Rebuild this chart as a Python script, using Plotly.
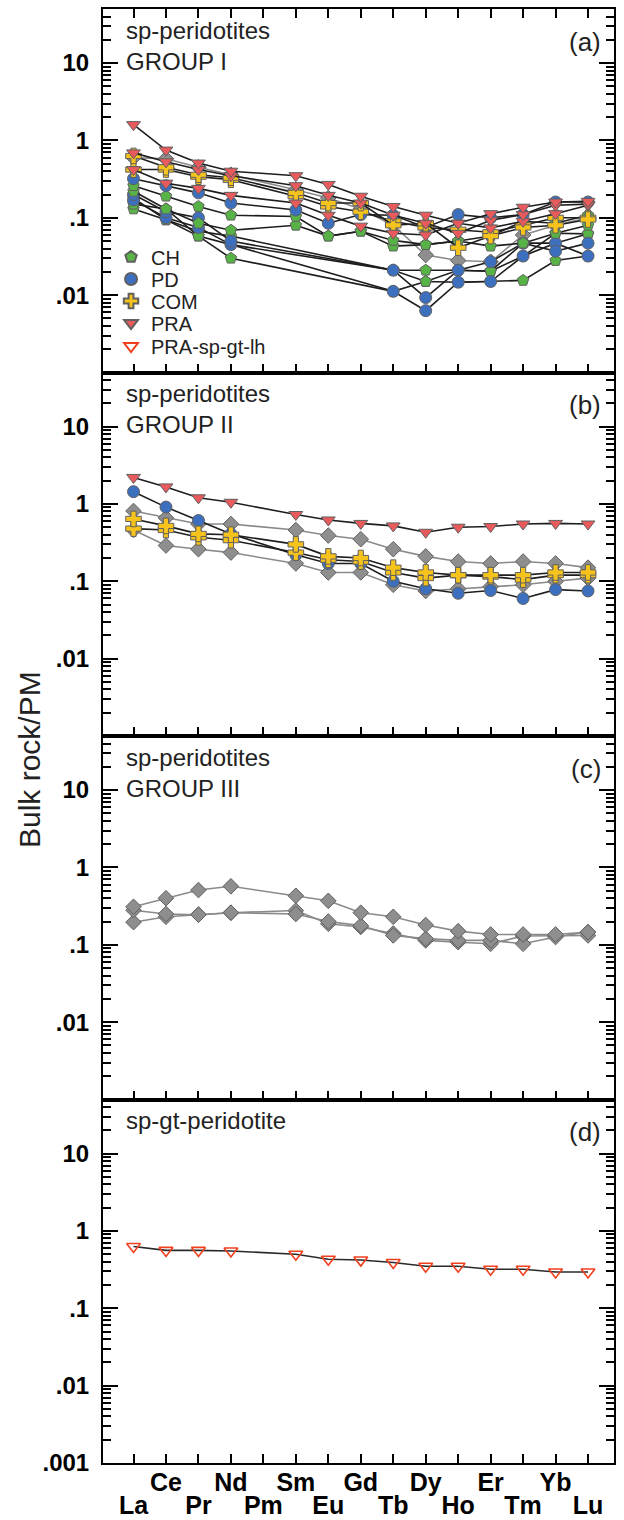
import math
import plotly.graph_objects as go
from plotly.subplots import make_subplots

elements = ["La", "Ce", "Pr", "Nd", "Pm", "Sm", "Eu", "Gd", "Tb", "Dy", "Ho", "Er", "Tm", "Yb", "Lu"]
lower_row = ["La", "Pr", "Pm", "Eu", "Tb", "Ho", "Tm", "Lu"]
ytick_vals = [0.001, 0.01, 0.1, 1, 10]
ytick_text = [".001", ".01", ".1", "1", "10"]

# ---- panel (a): sp-peridotites GROUP I ----
a_PRA_1 = [1.6, 0.75, 0.51, 0.40, None, 0.35, 0.27, 0.19, 0.14, 0.108, 0.085, 0.113, 0.137, 0.16, 0.163]
a_PRA_2 = [0.69, 0.53, 0.42, 0.35, None, 0.26, 0.195, 0.155, 0.108, 0.085, 0.063, 0.093, 0.11, 0.145, 0.15]
a_PRA_3 = [0.42, 0.28, 0.24, 0.195, None, 0.155, 0.108, 0.078, 0.063, 0.06, 0.085, 0.074, 0.09, 0.113, 0.145]
a_COM_1 = [0.63, 0.45, 0.36, 0.33, None, 0.21, 0.155, 0.155, 0.08, 0.085, 0.041, 0.058, 0.075, 0.08, 0.095]
a_COM_2 = [0.42, 0.42, 0.34, 0.31, None, 0.19, 0.14, 0.12, 0.09, 0.075, 0.07, 0.065, 0.08, 0.10, 0.10]
a_PD_1 = [0.32, 0.26, 0.21, 0.155, None, 0.126, 0.085, 0.11, 0.108, 0.075, 0.11, 0.10, 0.11, 0.16, 0.16]
a_PD_2 = [0.20, 0.12, 0.10, 0.05, None, None, None, None, 0.021, 0.0093, 0.021, 0.027, 0.047, 0.037, 0.047]
a_PD_3 = [0.17, 0.10, 0.075, 0.045, None, None, None, None, 0.0112, 0.0063, 0.0147, 0.015, 0.032, 0.047, 0.032]
a_CH_1 = [0.26, 0.19, 0.14, 0.108, None, 0.104, 0.058, 0.067, 0.051, 0.045, 0.05, 0.043, 0.047, 0.063, 0.08]
a_CH_2 = [0.22, 0.13, 0.085, 0.069, None, 0.08, 0.058, 0.067, 0.043, 0.045, 0.05, 0.058, 0.09, 0.085, 0.108]
a_CH_3 = [0.18, 0.094, 0.067, 0.058, None, None, None, None, 0.021, 0.021, 0.021, 0.0204, 0.032, 0.063, 0.062]
a_CH_4 = [0.13, 0.094, 0.058, 0.030, None, None, None, None, 0.0112, 0.015, 0.0147, 0.015, 0.0155, 0.028, 0.032]
a_CH_5 = [0.15, 0.13, 0.058, 0.045, None, None, None, None, 0.021, 0.015, 0.021, 0.0204, 0.047, 0.047, 0.062]
a_GR_1 = [0.60, 0.58, 0.45, 0.36, None, 0.23, 0.18, 0.13, 0.08, 0.033, 0.028, 0.027, 0.06, 0.08, 0.10]

# ---- panel (b): sp-peridotites GROUP II ----
b_PRA_1 = [2.2, 1.66, 1.2, 1.05, None, 0.73, 0.62, 0.56, 0.52, 0.43, 0.50, 0.51, 0.55, 0.56, 0.55]
b_PD_1 = [1.44, 0.91, 0.61, 0.41, None, 0.22, 0.17, 0.17, 0.10, 0.08, 0.07, 0.076, 0.06, 0.078, 0.075]
b_COM_1 = [0.64, 0.52, 0.41, 0.40, None, 0.30, 0.21, 0.20, 0.15, 0.13, 0.12, 0.12, 0.12, 0.13, 0.13]
b_COM_2 = [0.48, 0.46, 0.37, 0.34, None, 0.235, 0.19, 0.18, 0.13, 0.11, 0.12, 0.115, 0.105, 0.12, 0.12]
b_GR_1 = [0.81, 0.66, 0.55, 0.55, None, 0.46, 0.39, 0.35, 0.26, 0.21, 0.18, 0.17, 0.18, 0.17, 0.15]
b_GR_2 = [0.46, 0.29, 0.26, 0.235, None, 0.17, 0.13, 0.13, 0.09, 0.075, 0.08, 0.085, 0.09, 0.10, 0.11]

# ---- panel (c): sp-peridotites GROUP III ----
c_GR_1 = [0.31, 0.40, 0.51, 0.57, None, 0.43, 0.37, 0.26, 0.23, 0.18, 0.15, 0.136, 0.136, 0.136, 0.146]
c_GR_2 = [0.28, 0.25, 0.245, 0.26, None, 0.25, 0.20, 0.177, 0.132, 0.12, 0.114, 0.114, 0.103, 0.126, 0.146]
c_GR_3 = [0.196, 0.23, 0.245, 0.26, None, 0.277, 0.187, 0.17, 0.14, 0.114, 0.108, 0.103, 0.13, 0.13, 0.132]

# ---- panel (d): sp-gt-peridotite ----
d_SGL_1 = [0.63, 0.56, 0.56, 0.55, None, 0.50, 0.43, 0.42, 0.39, 0.35, 0.35, 0.32, 0.32, 0.295, 0.295]

panel_titles = ["sp-peridotites<br>GROUP I", "sp-peridotites<br>GROUP II",
                "sp-peridotites<br>GROUP III", "sp-gt-peridotite"]
panel_letters = ["(a)", "(b)", "(c)", "(d)"]

STY = {
    "CH": dict(symbol="pentagon", color="#58b347", line="#1e1e1e"),
    "PD": dict(symbol="circle", color="#3d6fbf", line="#1e1e1e"),
    "COM": dict(symbol="cross", color="#f6c31c", line="#1e1e1e"),
    "PRA": dict(symbol="triangle-down", color="#e85a5c", line="#1e1e1e"),
    "GR": dict(symbol="diamond", color="#8e8e8e", line="#8a8a8a"),
    "SGL": dict(symbol="triangle-down-open", color="#f0401e", line="#2a2a2a"),
}
legend_names = [("CH", "CH"), ("PD", "PD"), ("COM", "COM"), ("PRA", "PRA"), ("SGL", "PRA-sp-gt-lh")]
legend_rows_px = [257, 279, 301, 323, 346]

panels = [
    [("GR", a_GR_1), ("CH", a_CH_4), ("CH", a_CH_3), ("CH", a_CH_5), ("PD", a_PD_3), ("PD", a_PD_2),
     ("CH", a_CH_2), ("CH", a_CH_1), ("PD", a_PD_1), ("COM", a_COM_2), ("COM", a_COM_1),
     ("PRA", a_PRA_3), ("PRA", a_PRA_2), ("PRA", a_PRA_1)],
    [("GR", b_GR_2), ("GR", b_GR_1), ("PD", b_PD_1), ("COM", b_COM_2), ("COM", b_COM_1), ("PRA", b_PRA_1)],
    [("GR", c_GR_3), ("GR", c_GR_2), ("GR", c_GR_1)],
    [("SGL", d_SGL_1)],
]

W, H = 624, 1520
ML, MR, MT, MB = 103, 10, 9, 57
PH = H - MT - MB


def marker_for(kind, size):
    s = STY[kind]
    if kind == "SGL":
        return dict(symbol=s["symbol"], size=size, color=s["color"], line=dict(color=s["color"], width=1.6))
    return dict(symbol=s["symbol"], size=size, color=s["color"], line=dict(color="#606060", width=1))


xs = list(range(len(elements)))
fig = make_subplots(rows=4, cols=1, shared_xaxes=True, vertical_spacing=0)

for r, series in enumerate(panels, start=1):
    for kind, vals in series:
        s = STY[kind]
        fig.add_trace(go.Scatter(x=xs, y=vals, mode="lines+markers", connectgaps=True,
                                 line=dict(color=s["line"], width=1.6),
                                 marker=marker_for(kind, 12 if kind != "COM" else 13),
                                 showlegend=False, hoverinfo="skip"), row=r, col=1)

# legend entries (marker only), one legend per row so the row spacing matches
for i, (kind, name) in enumerate(legend_names):
    lg = "legend" if i == 0 else "legend%d" % (i + 1)
    fig.add_trace(go.Scatter(x=[None], y=[None], mode="markers", marker=marker_for(kind, 13),
                             name=name, showlegend=True, legend=lg), row=1, col=1)

font_fam = "Liberation Sans, Arial, Helvetica, sans-serif"
ymax = math.log10(50)
for r in range(1, 5):
    if r == 4:
        tv, tt = ytick_vals, ytick_text
    else:
        tv, tt = ytick_vals[1:], ytick_text[1:]
    fig.update_yaxes(type="log", range=[-3, ymax], tickvals=tv, ticktext=tt, automargin=False,
                     ticks="inside", ticklen=15, tickwidth=2, tickcolor="black",
                     minor=dict(ticks="inside", ticklen=8, tickwidth=1.5, tickcolor="black", dtick="D1", showgrid=False),
                     showline=True, linewidth=2, linecolor="black", mirror="ticks",
                     showgrid=False, zeroline=False, ticklabelstandoff=7,
                     tickfont=dict(family=font_fam, size=24, color="black", weight="bold"),
                     row=r, col=1)
    fig.update_xaxes(range=[-0.94, 14.8], tickvals=xs, automargin=False,
                     ticktext=["" if e in lower_row else e for e in elements],
                     ticks="inside", ticklen=9, tickwidth=2, tickcolor="black",
                     showline=True, linewidth=2, linecolor="black",
                     mirror="ticks" if r == 1 else True, tickangle=0,
                     showgrid=False, zeroline=False, ticklabelstandoff=-4,
                     tickfont=dict(family=font_fam, size=25, color="black", weight="bold"),
                     row=r, col=1)

# second label row (La, Pr, Pm, ...) on an overlaying bottom axis
fig.add_trace(go.Scatter(x=[None], y=[None], xaxis="x5", yaxis="y4", showlegend=False, hoverinfo="skip"))
fig.update_layout(xaxis5=dict(overlaying="x4", anchor="y4", side="bottom", range=[-0.94, 14.8],
                              tickvals=xs, ticktext=[e if e in lower_row else "" for e in elements],
                              ticks="", showline=False, showgrid=False, zeroline=False, tickangle=0,
                              ticklabelstandoff=25, automargin=False,
                              tickfont=dict(family=font_fam, size=25, color="black", weight="bold")))

for i in range(4):
    xref = "x domain" if i == 0 else "x%d domain" % (i + 1)
    yref = "y domain" if i == 0 else "y%d domain" % (i + 1)
    fig.add_annotation(text=panel_titles[i], xref=xref, yref=yref, x=0.042, y=0.984,
                       xanchor="left", yanchor="top", align="left", showarrow=False,
                       font=dict(family=font_fam, size=24, color="#222"))
    fig.add_annotation(text=panel_letters[i], xref=xref, yref=yref, x=0.978, y=0.91,
                       xanchor="right", yanchor="middle", showarrow=False,
                       font=dict(family=font_fam, size=26, color="#222"))

fig.add_annotation(text="Bulk rock/PM", xref="paper", yref="paper", x=(30 - ML) / (W - ML - MR),
                   y=1 - (760 - MT) / PH, xanchor="center", yanchor="middle", textangle=-90,
                   showarrow=False, font=dict(family=font_fam, size=30, color="#222"))

legend_common = dict(x=0.0157, xanchor="left", yanchor="middle", bgcolor="rgba(0,0,0,0)",
                     font=dict(family=font_fam, size=20, color="#222"), itemsizing="constant")
lay = {}
for i, ypx in enumerate(legend_rows_px):
    key = "legend" if i == 0 else "legend%d" % (i + 1)
    lay[key] = dict(legend_common, y=1 - (ypx - MT) / PH)

fig.update_layout(width=W, height=H, margin=dict(l=ML, r=MR, t=MT, b=MB, autoexpand=False),
                  paper_bgcolor="white", plot_bgcolor="white", showlegend=True, **lay)

fig.write_html("out.html", config={"displayModeBar": False},
               post_script="document.body.style.margin='0';document.body.style.padding='0';")
